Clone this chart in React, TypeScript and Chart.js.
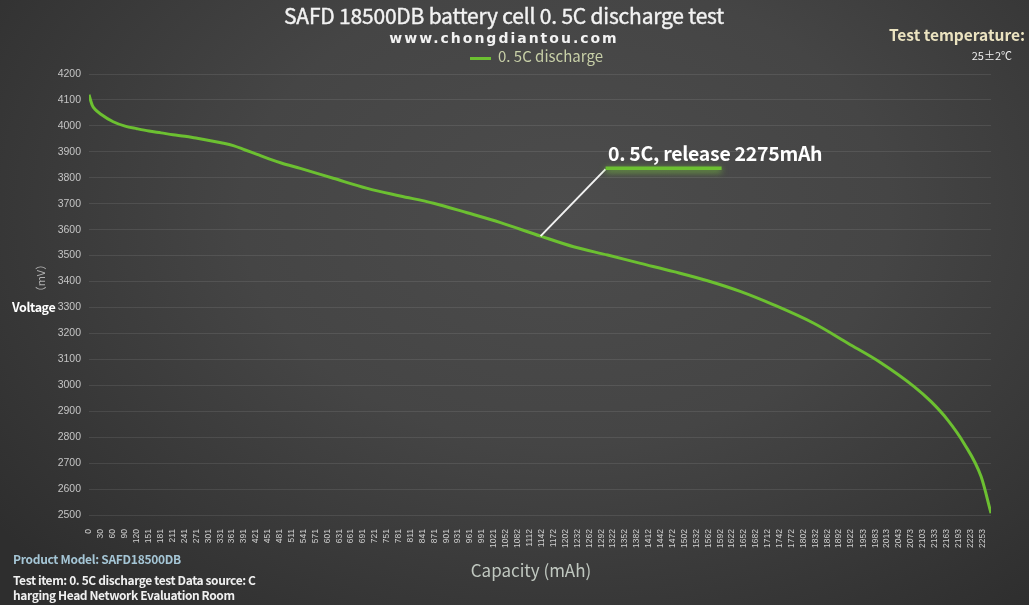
import { useEffect, useRef } from 'react';
import { Chart, registerables } from 'chart.js';

Chart.register(...registerables);

// capacity (mAh) / voltage (mV)
const capacity = [
  0, 8, 15, 30, 61, 91, 121, 151, 182, 212, 242, 273, 303, 333, 364, 394, 424, 454, 485,
  533, 616, 702, 785, 869, 954, 1038, 1139, 1222, 1308, 1391, 1475, 1560, 1644, 1727,
  1828, 1914, 1997, 2081, 2124, 2166, 2207, 2250, 2275,
];
const voltage = [
  4120, 4080, 4064, 4045, 4016, 3999, 3989, 3980, 3973, 3966, 3960, 3952, 3944, 3935,
  3924, 3907, 3890, 3873, 3857, 3836, 3798, 3759, 3730, 3702, 3665, 3627, 3575, 3534,
  3502, 3470, 3438, 3403, 3361, 3310, 3239, 3162, 3087, 2995, 2937, 2866, 2776, 2648, 2507,
];

const xTickLabels = [
  0, 30, 60, 90, 120, 151, 181, 211, 241, 271, 301, 331, 361, 391, 421, 451, 481, 511, 541,
  571, 601, 631, 661, 691, 721, 751, 781, 811, 841, 871, 901, 931, 961, 991, 1021, 1052,
  1082, 1112, 1142, 1172, 1202, 1232, 1262, 1292, 1322, 1352, 1382, 1412, 1442, 1472, 1502,
  1532, 1562, 1592, 1622, 1652, 1682, 1712, 1742, 1772, 1802, 1832, 1862, 1892, 1922, 1953,
  1983, 2013, 2043, 2073, 2103, 2133, 2163, 2193, 2223, 2253,
];

const seriesName = '0. 5C discharge';
const calloutIndex = 26; // point the "release 2275mAh" label points at

const GREEN = '#6cc031';
const CJK = '"Noto Sans CJK SC", "Noto Sans", sans-serif';

const calloutPlugin = {
  id: 'callout',
  afterDatasetsDraw(chart: any) {
    const { ctx, scales } = chart;
    const px = scales.x.getPixelForValue(capacity[calloutIndex]);
    const py = scales.y.getPixelForValue(voltage[calloutIndex]);
    const ex = px + 65;
    const ey = py - 67;
    ctx.save();
    ctx.strokeStyle = '#f2f2f2';
    ctx.lineWidth = 2;
    ctx.beginPath();
    ctx.moveTo(px, py);
    ctx.lineTo(ex, ey);
    ctx.stroke();
    ctx.shadowColor = 'rgba(120, 200, 60, 0.9)';
    ctx.shadowBlur = 6;
    ctx.shadowOffsetY = 2;
    ctx.strokeStyle = GREEN;
    ctx.lineWidth = 3.5;
    ctx.beginPath();
    ctx.moveTo(ex, ey - 1);
    ctx.lineTo(ex + 116, ey - 1);
    ctx.stroke();
    ctx.restore();
  },
};

// text placed by its baseline (Noto Sans CJK metrics, line-height 0)
function Txt({ x, y, size, children, align = 'left', style = {} }: any) {
  const shift = align === 'center' ? 'translateX(-50%)' : align === 'right' ? 'translateX(-100%)' : '';
  return (
    <div
      style={{
        position: 'absolute',
        left: x,
        top: y - 0.436 * size,
        fontSize: size,
        lineHeight: '0px',
        whiteSpace: 'nowrap',
        fontFamily: CJK,
        transform: shift,
        ...style,
      }}
    >
      {children}
    </div>
  );
}

export default function App() {
  const chartRef = useRef<HTMLCanvasElement>(null);
  const chartInstance = useRef<Chart | null>(null);

  useEffect(() => {
    if (!chartRef.current) return;
    if (chartInstance.current) chartInstance.current.destroy();

    chartInstance.current = new Chart(chartRef.current, {
      type: 'line',
      data: {
        datasets: [
          {
            label: seriesName,
            data: capacity.map((c, i) => ({ x: c, y: voltage[i] })),
            borderColor: GREEN,
            borderWidth: 3,
            pointRadius: 0,
            cubicInterpolationMode: 'monotone',
            fill: false,
          },
        ],
      },
      options: {
        animation: false,
        responsive: false,
        layout: { padding: { top: 74, right: 38, left: 0, bottom: 0 } },
        plugins: {
          legend: { display: false },
          tooltip: { enabled: false },
        },
        scales: {
          x: {
            type: 'linear',
            min: 0,
            max: 2275,
            afterBuildTicks: (scale: any) => {
              scale.ticks = xTickLabels.map(v => ({ value: v }));
            },
            afterFit: (scale: any) => {
              scale.height = 90;
            },
            grid: { display: false },
            border: { display: false },
            ticks: {
              autoSkip: false,
              minRotation: 90,
              maxRotation: 90,
              padding: 6,
              color: '#cfcfcf',
              font: { family: '"Liberation Sans", Arial, sans-serif', size: 8.5 },
              callback: (v: any) => String(v),
            },
          },
          y: {
            min: 2500,
            max: 4200,
            afterFit: (scale: any) => {
              scale.width = 89;
            },
            grid: { color: 'rgba(255, 255, 255, 0.09)', drawTicks: false },
            border: { display: false },
            ticks: {
              stepSize: 100,
              padding: 8,
              color: '#c4c4c4',
              font: { family: '"Liberation Sans", Arial, sans-serif', size: 10.5 },
              callback: (v: any) => String(v),
            },
          },
        },
      },
      plugins: [calloutPlugin],
    } as any);

    return () => {
      if (chartInstance.current) {
        chartInstance.current.destroy();
        chartInstance.current = null;
      }
    };
  }, []);

  return (
    <div
      style={{
        position: 'absolute',
        left: 0,
        top: 0,
        width: 1029,
        height: 605,
        overflow: 'hidden',
        background:
          'radial-gradient(ellipse 70% 85% at 55% 35%, #4c4c4c 0%, #454545 45%, #2e2e2e 100%)',
      }}
    >
      <canvas ref={chartRef} width={1029} height={605} style={{ position: 'absolute', left: 0, top: 0 }} />

      <Txt
        x={504}
        y={24}
        size={21}
        align="center"
        style={{ color: '#f2f2f2', letterSpacing: -0.2, WebkitTextStroke: '0.4px #f2f2f2' }}
      >
        SAFD 18500DB battery cell 0. 5C discharge test
      </Txt>
      <div
        style={{
          position: 'absolute',
          left: 504,
          top: 42.7 - 0.346 * 14,
          transform: 'translateX(-50%)',
          fontFamily: '"DejaVu Sans", sans-serif',
          fontWeight: 'bold',
          fontSize: 14,
          lineHeight: '0px',
          letterSpacing: 2,
          whiteSpace: 'nowrap',
          color: '#f2f2f2',
        }}
      >
        www.chongdiantou.com
      </div>

      <div style={{ position: 'absolute', left: 470, top: 57, width: 21, height: 3, background: GREEN }} />
      <Txt x={498} y={63} size={15} style={{ color: '#c8d0a8' }}>
        {seriesName}
      </Txt>

      <Txt x={1025} y={41} size={15.5} align="right" style={{ color: '#ebe3c0', fontWeight: 'bold' }}>
        Test temperature:
      </Txt>
      <Txt x={1012} y={60} size={11} align="right" style={{ color: '#f0f0f0' }}>
        25±2℃
      </Txt>

      <Txt x={608} y={161.5} size={19.5} style={{ color: '#ffffff', fontWeight: 'bold', letterSpacing: -0.3 }}>
        0. 5C, release 2275mAh
      </Txt>

      <Txt x={12} y={312.5} size={12.5} style={{ color: '#ffffff', fontWeight: 'bold', letterSpacing: -0.4 }}>
        Voltage
      </Txt>
      <div
        style={{
          position: 'absolute',
          left: 40,
          top: 278,
          transform: 'translate(-50%, -50%) rotate(-90deg)',
          fontFamily: CJK,
          fontSize: 11,
          lineHeight: '12px',
          whiteSpace: 'nowrap',
          color: '#b0b0b0',
        }}
      >
        （mV）
      </div>

      <Txt x={531} y={577} size={17} align="center" style={{ color: '#c0c8c0' }}>
        Capacity (mAh)
      </Txt>

      <Txt x={13} y={564} size={12} style={{ color: '#a5c6d6', fontWeight: 'bold', letterSpacing: -0.3 }}>
        Product Model: SAFD18500DB
      </Txt>
      <Txt x={13} y={585} size={12} style={{ color: '#f0f0f0', fontWeight: 'bold', letterSpacing: -0.4 }}>
        Test item: 0. 5C discharge test Data source: C
      </Txt>
      <Txt x={13} y={600} size={12} style={{ color: '#f0f0f0', fontWeight: 'bold', letterSpacing: -0.4 }}>
        harging Head Network Evaluation Room
      </Txt>
    </div>
  );
}
